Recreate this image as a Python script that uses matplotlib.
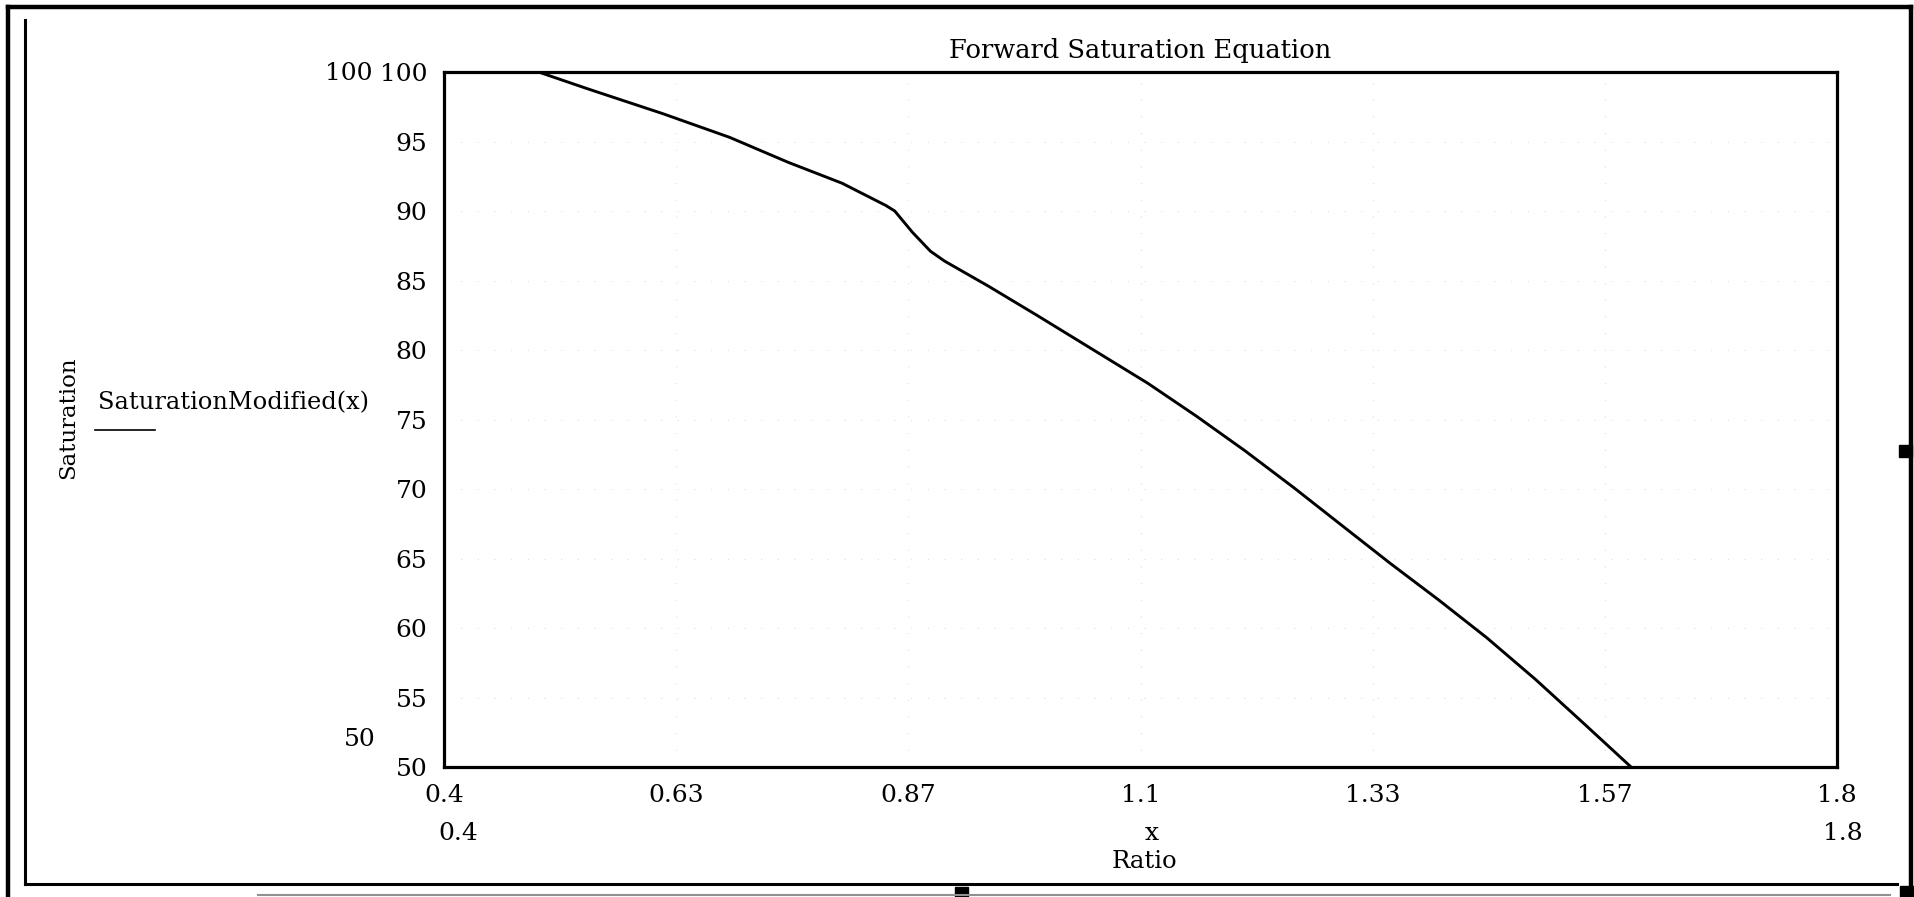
import numpy as np
import matplotlib.pyplot as plt
from matplotlib.lines import Line2D
from matplotlib.patches import Rectangle

# values
ratio = [0.495, 0.544, 0.620, 0.687, 0.746, 0.800, 0.844, 0.853, 0.871, 0.889, 0.903,
         0.947, 0.997, 1.046, 1.1075, 1.156, 1.205, 1.254, 1.302, 1.351, 1.400, 1.448,
         1.497, 1.546, 1.593]
saturation = [100.0, 98.8, 97.0, 95.3, 93.5, 92.0, 90.4, 90.0, 88.45, 87.1, 86.4,
              84.6, 82.45, 80.3, 77.6, 75.25, 72.75, 70.1, 67.4, 64.65, 62.0, 59.3,
              56.3, 53.1, 50.0]

x_ticks = [0.4, 0.6333, 0.8667, 1.1, 1.3333, 1.5667, 1.8]
x_tick_labels = ['0.4', '0.63', '0.87', '1.1', '1.33', '1.57', '1.8']
y_ticks = [50, 55, 60, 65, 70, 75, 80, 85, 90, 95, 100]

W, H = 1914, 897
plt.rcParams['font.family'] = ['DejaVu Serif']

fig = plt.figure(figsize=(W / 100, H / 100), dpi=100)

# overlay in pixel coordinates for the frame and loose labels
over = fig.add_axes([0, 0, 1, 1])
over.set_xlim(0, W)
over.set_ylim(H, 0)
over.axis('off')

ax = fig.add_axes([444 / W, 1 - 767 / H, (1837 - 444) / W, (767 - 72) / H])
ax.plot(ratio, saturation, color='black', lw=2.1, solid_capstyle='round', solid_joinstyle='round')
ax.set_xlim(0.4, 1.8)
ax.set_ylim(50, 100)
ax.set_xticks(x_ticks)
ax.set_xticklabels(x_tick_labels)
ax.set_yticks(y_ticks)
ax.tick_params(length=0, labelsize=18, pad=12)
ax.grid(True, color='#dedede', lw=0.8, linestyle=(0, (1, 14)))
for sp in ax.spines.values():
    sp.set_linewidth(2.3)
ax.set_title('Forward Saturation Equation', fontsize=18.5, pad=10)

# frame of the worksheet region
frame_lw = 3.2
over.add_line(Line2D([8, 8], [7, 897], color='black', lw=frame_lw))
over.add_line(Line2D([8, 1911], [7, 7], color='black', lw=frame_lw))
over.add_line(Line2D([1911, 1911], [7, 886], color='black', lw=frame_lw))
over.add_line(Line2D([25, 25], [20, 884], color='black', lw=2.2))
over.add_line(Line2D([25, 1897], [884, 884], color='black', lw=2.2))
over.add_line(Line2D([258, 1890], [895, 895], color='#909090', lw=1.5))
for (hx, hy, hw, hh) in [(1899, 445, 13, 12), (1900, 886, 14, 11), (955, 887, 13, 10)]:
    over.add_patch(Rectangle((hx, hy), hw, hh, color='black'))

# Mathcad axis-limit labels and names
over.text(372, 73, '100', fontsize=18, ha='right', va='center')
over.text(360, 740, '50', fontsize=18, ha='center', va='center')
over.text(458, 834, '0.4', fontsize=18, ha='center', va='center')
over.text(1843, 834, '1.8', fontsize=18, ha='center', va='center')
over.text(1152, 834, 'x', fontsize=18, ha='center', va='center')
over.text(1144, 862, 'Ratio', fontsize=17.5, ha='center', va='center')
over.text(68, 418, 'Saturation', fontsize=16.5, rotation=90, ha='center', va='center')
over.text(98, 403, 'SaturationModified(x)', fontsize=17.4, ha='left', va='center')
over.add_line(Line2D([95, 155], [430, 430], color='black', lw=1.2))

fig.savefig('out.png', dpi=100)
